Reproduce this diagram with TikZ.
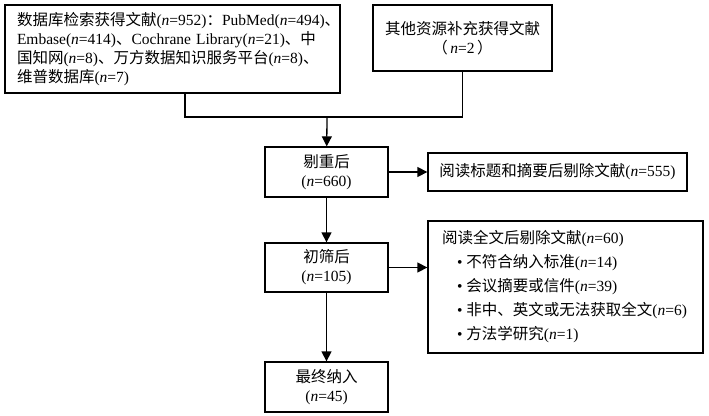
\documentclass[tikz,border=0pt]{standalone}
\usepackage{fontspec}
\setmainfont{Liberation Serif}
\newfontfamily\cjk{Noto Sans CJK SC}
\usetikzlibrary{arrows.meta}
\newcommand{\zh}[1]{{\cjk #1}}
\newcommand{\nn}{\textit{n}}

\begin{document}
\begin{tikzpicture}[x=1pt, y=-1pt, >={Triangle[length=10pt,width=10pt]},
	box/.style={draw, line width=1.3pt, inner sep=0pt, align=center,
		font=\fontsize{15.5}{19}\selectfont},
	link/.style={line width=1.3pt}]

	\useasboundingbox (0,0) rectangle (709,415);

	% sources
	\node[box, align=left, inner xsep=12pt, text width=311pt, minimum height=88pt] (db) at (172.5,49)
	{\zh{数据库检索获得文献}(\nn=952)\zh{：}PubMed(\nn=494)\zh{、}\\
	 Embase(\nn=414)\zh{、}Cochrane Library(\nn=21)\zh{、中}\\
	 \zh{国知网}(\nn=8)\zh{、万方数据知识服务平台}(\nn=8)\zh{、}\\
	 \zh{维普数据库}(\nn=7)};
	\node[box, minimum width=179pt, minimum height=66pt] (other) at (462.5,38)
	{\zh{其他资源补充获得文献}\\ \zh{（}\,\nn=2\,\zh{）}};

	% screening steps
	\node[box, minimum width=123pt, minimum height=50pt] (dedup) at (326.5,172)
	{\zh{剔重后}\\(\nn=660)};
	\node[box, minimum width=123pt, minimum height=49pt] (screen) at (326.5,267.5)
	{\zh{初筛后}\\(\nn=105)};
	\node[box, minimum width=123pt, minimum height=50pt] (final) at (326.5,387)
	{\zh{最终纳入}\\(\nn=45)};

	% exclusions
	\node[box, minimum width=259pt, minimum height=38pt] (excl1) at (557.5,172)
	{\zh{阅读标题和摘要后剔除文献}(\nn=555)};
	\node[box, align=left, inner xsep=14pt, text width=247pt, minimum height=132pt,
		font=\fontsize{15.5}{24}\selectfont] (excl2) at (565.5,287)
	{\zh{阅读全文后剔除文献}(\nn=60)\\
	 \hspace*{15pt}•\hspace{4pt}\zh{不符合纳入标准}(\nn=14)\\
	 \hspace*{15pt}•\hspace{4pt}\zh{会议摘要或信件}(\nn=39)\\
	 \hspace*{15pt}•\hspace{4pt}\zh{非中、英文或无法获取全文}(\nn=6)\\
	 \hspace*{15pt}•\hspace{4pt}\zh{方法学研究}(\nn=1)};

	% connectors
	\coordinate (join) at (327,117);
	\draw[link] ([xshift=12.5pt]db.south) |- (join);
	\draw[link] (other.south) |- (join);
	\draw[link, ->] (join) -- (dedup);
	\draw[link, ->] (dedup) -- (excl1);
	\draw[link, ->] (dedup) -- (screen);
	\draw[link, ->] (screen.east) -- (screen.east -| excl2.west);
	\draw[link, ->] (screen) -- (final);

\end{tikzpicture}
\end{document}
